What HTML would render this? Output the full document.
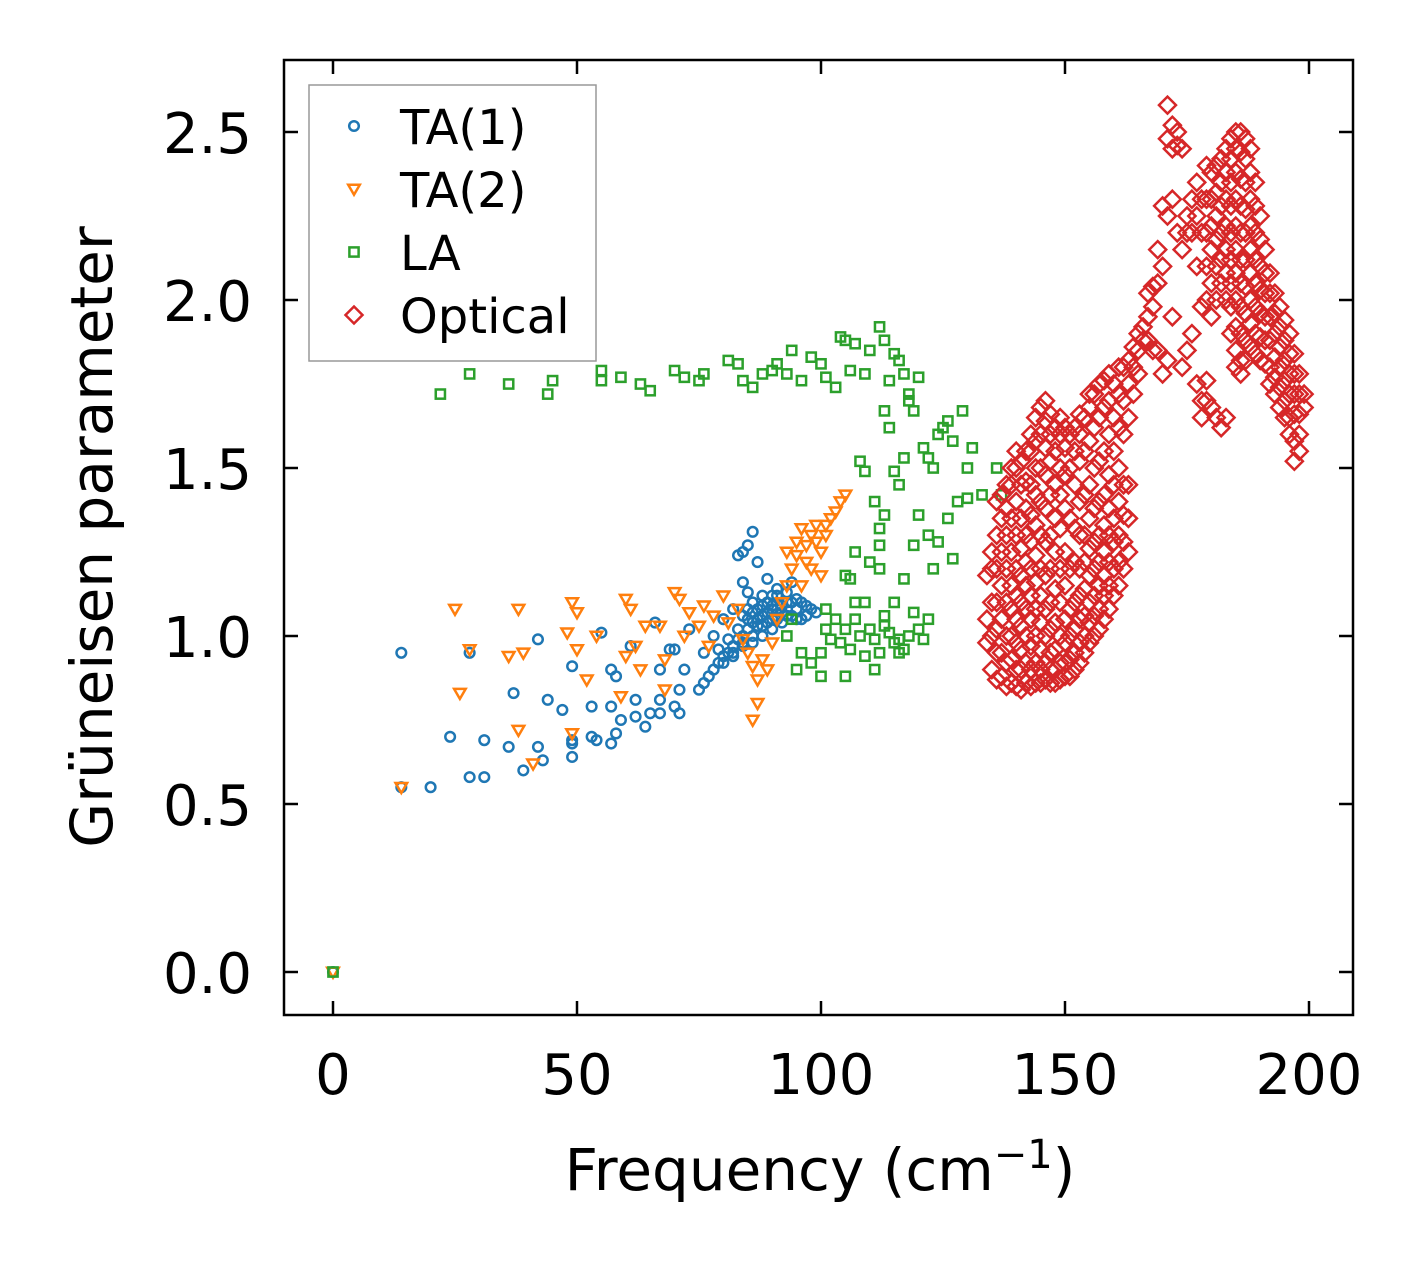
<!DOCTYPE html>
<html><head><meta charset="utf-8"><style>
html,body{margin:0;padding:0;background:#fff;}
svg{display:block;font-family:"DejaVu Sans","Liberation Sans",sans-serif;}
</style></head><body>
<svg id="chart" width="1424" height="1264" viewBox="0 0 1424 1264">
<g id="marks"></g>
<rect x="284" y="60" width="1069" height="955" fill="none" stroke="#000" stroke-width="2.5"/>
<g id="axes"></g>
<text x="112" y="537" font-size="58" text-anchor="middle" transform="rotate(-90 112 537)">Grüneisen parameter</text>
<text x="820" y="1190" font-size="58" text-anchor="middle">Frequency (cm<tspan dy="-22" font-size="40">−1</tspan><tspan dy="22">)</tspan></text>
<g>
<rect x="309" y="85" width="287" height="276" fill="#fff" stroke="#999" stroke-width="1.5"/>
<g id="legend-items"></g>
</g>
</svg>
<script>
const ta1X=[0,14,14,20,24,28,28,31,31,37,36,39,42,42,43,44,47,49,49,49,49,53,53,54,55,57,57,58,58,57,59,62,61,62,64,65,66,67,67,67,69,70,70,71,71,72,73,75,76,77,78,79,80,81,82,83,84,85,86,87,88,89,90,91,92,93,94,95,96,97,98,84,85,86,87,83,84,85,89,91,94,80,78,76,82,86,88,90,92,95,97,99,84,86,88,90,84,82,85,87,89,91,93,86,88,90,79,81,83,85,87,89,91,93,95,80,82,84,86,88,90,92,94,96];
const ta1Y=[0,0.95,0.55,0.55,0.70,0.95,0.58,0.58,0.69,0.83,0.67,0.60,0.67,0.99,0.63,0.81,0.78,0.69,0.64,0.91,0.68,0.79,0.70,0.69,1.01,0.90,0.79,0.88,0.71,0.68,0.75,0.81,0.97,0.76,0.73,0.77,1.04,0.90,0.81,0.77,0.96,0.96,0.79,0.84,0.77,0.90,1.02,0.84,0.86,0.88,0.90,0.92,0.94,0.95,0.97,0.99,1.00,1.02,1.04,1.05,1.06,1.07,1.08,1.08,1.09,1.10,1.10,1.11,1.10,1.09,1.08,1.25,1.27,1.31,1.22,1.24,1.16,1.13,1.17,1.14,1.16,1.05,1.00,0.95,1.08,0.98,1.00,1.02,1.04,1.05,1.06,1.07,1.06,1.10,1.12,1.12,0.97,0.94,1.08,1.03,1.04,1.05,1.06,1.07,1.09,1.09,0.96,0.99,1.02,1.05,1.08,1.1,1.12,1.13,1.08,0.92,0.95,0.98,1.0,1.03,1.05,1.07,1.06,1.05];
const ta2X=[0,14,25,26,28,38,36,38,39,41,48,49,49,50,50,52,54,60,59,60,61,62,63,64,67,68,68,70,71,72,73,75,76,77,78,80,81,83,84,85,86,86,87,87,88,89,90,91,92,93,93,94,95,96,97,98,99,100,101,102,103,104,105,98,96,100,95,97,99,101];
const ta2Y=[0,0.55,1.08,0.83,0.96,1.08,0.94,0.72,0.95,0.62,1.01,1.10,0.71,1.07,0.96,0.87,1.00,1.11,0.82,0.94,1.08,0.97,0.90,1.03,1.03,0.93,0.84,1.13,1.11,1.00,1.07,1.03,1.09,0.97,1.06,1.12,1.04,1.08,0.99,0.95,0.91,0.75,0.80,0.87,0.93,0.90,0.98,1.05,1.10,1.15,1.25,1.20,1.28,1.32,1.22,1.30,1.28,1.25,1.30,1.35,1.37,1.40,1.42,1.20,1.15,1.18,1.24,1.27,1.33,1.33];
const laX=[0,22,28,36,44,45,55,55,59,63,65,70,72,75,76,81,83,84,86,88,90,91,93,94,96,98,100,101,103,104,105,106,107,109,110,112,113,114,115,116,117,118,120,119,113,114,108,109,111,112,113,115,116,117,118,121,122,123,124,125,126,127,129,130,131,133,136,137,120,122,124,126,128,130,127,123,119,117,112,112,105,106,107,110,109,107,105,103,101,100,98,96,95,94,93,101,104,105,106,108,109,110,111,112,113,114,115,116,117,118,119,120,121,122,115,113,111,116,100,102,107];
const laY=[0,1.72,1.78,1.75,1.72,1.76,1.79,1.76,1.77,1.75,1.73,1.79,1.77,1.76,1.78,1.82,1.81,1.76,1.74,1.78,1.79,1.81,1.78,1.85,1.76,1.83,1.81,1.77,1.74,1.89,1.88,1.79,1.87,1.78,1.85,1.92,1.88,1.76,1.84,1.82,1.78,1.72,1.77,1.67,1.67,1.62,1.52,1.49,1.40,1.32,1.36,1.49,1.45,1.53,1.70,1.56,1.53,1.50,1.60,1.62,1.64,1.58,1.67,1.50,1.56,1.42,1.50,1.42,1.36,1.30,1.28,1.35,1.40,1.41,1.23,1.20,1.27,1.17,1.20,1.27,1.18,1.17,1.25,1.22,1.10,1.05,1.02,1.05,1.02,0.88,0.92,0.95,0.90,1.05,1.00,1.08,0.98,0.88,0.96,1.00,0.94,1.02,0.99,0.95,1.03,1.01,0.98,0.99,0.96,1.00,1.07,1.02,0.99,1.05,1.10,1.06,0.90,0.95,0.95,0.99,1.10];
// Optical: each column = [frequency, [gamma values]]
const optColumns=[
[134,[0.98,1.05,1.18]],
[135,[0.9,1.0,1.1,1.2,1.25]],
[136,[0.87,0.95,1.02,1.1,1.2,1.3,1.4]],
[137,[0.88,0.95,1.05,1.15,1.25,1.35,1.42]],
[138,[0.85,0.92,1.0,1.1,1.2,1.3,1.38,1.45]],
[139,[0.86,0.93,1.0,1.08,1.15,1.25,1.35,1.45,1.5]],
[140,[0.85,0.9,0.98,1.05,1.12,1.2,1.3,1.4,1.5,1.55]],
[141,[0.84,0.9,0.96,1.03,1.1,1.18,1.26,1.35,1.45,1.52]],
[142,[0.86,0.92,1.0,1.08,1.15,1.22,1.3,1.38,1.46,1.55]],
[143,[0.85,0.9,0.97,1.05,1.12,1.2,1.28,1.36,1.45,1.55,1.6]],
[144,[0.86,0.92,1.0,1.08,1.16,1.24,1.33,1.42,1.5,1.58,1.65]],
[145,[0.86,0.9,0.96,1.04,1.12,1.2,1.3,1.4,1.5,1.6,1.68]],
[146,[0.87,0.92,1.0,1.08,1.18,1.28,1.38,1.48,1.56,1.64,1.7]],
[147,[0.86,0.9,0.95,1.02,1.1,1.2,1.3,1.42,1.52,1.6,1.66]],
[148,[0.86,0.9,0.96,1.04,1.14,1.25,1.35,1.45,1.55,1.62]],
[149,[0.87,0.92,1.0,1.1,1.2,1.32,1.42,1.5,1.6,1.65]],
[150,[0.88,0.92,0.98,1.05,1.15,1.25,1.38,1.48,1.56,1.62]],
[151,[0.88,0.93,1.0,1.08,1.2,1.35,1.5,1.6]],
[152,[0.9,0.95,1.02,1.1,1.22,1.32,1.45,1.55,1.62]],
[153,[0.92,0.98,1.05,1.12,1.2,1.3,1.4,1.52,1.6,1.66]],
[154,[0.95,1.0,1.06,1.14,1.22,1.3,1.42,1.55,1.65]],
[155,[0.98,1.04,1.1,1.18,1.26,1.35,1.45,1.58,1.68,1.72]],
[156,[1.0,1.06,1.12,1.2,1.28,1.38,1.5,1.62,1.72]],
[157,[1.02,1.08,1.15,1.22,1.3,1.4,1.52,1.65,1.75]],
[158,[1.05,1.12,1.18,1.25,1.33,1.42,1.55,1.68,1.76]],
[159,[1.08,1.15,1.22,1.3,1.38,1.48,1.6,1.7,1.78]],
[160,[1.12,1.2,1.28,1.35,1.45,1.55,1.65,1.75]],
[161,[1.15,1.22,1.3,1.4,1.5,1.62,1.72,1.8]],
[162,[1.2,1.28,1.36,1.45,1.6,1.7,1.8]],
[163,[1.25,1.35,1.45,1.65,1.75,1.82]],
[164,[1.72,1.8,1.86]],
[165,[1.78,1.85,1.9]],
[166,[1.88,1.92]],
[167,[1.95,2.02,1.88]],
[168,[1.98,2.04,1.85]],
[169,[2.05,1.85,2.15]],
[170,[1.78,2.1,2.28]],
[171,[1.82,2.25,2.58,2.48]],
[172,[2.3,2.45,1.95,2.52]],
[173,[2.5,2.2,2.46]],
[174,[2.15,1.8,2.45]],
[175,[2.25,1.85,2.2]],
[176,[2.3,2.2,1.9]],
[177,[2.35,2.25,2.1,1.75]],
[178,[2.2,2.3,1.98,1.65,1.7]],
[179,[2.4,2.3,2.2,2.1,2.0,1.7,1.76]],
[180,[2.38,2.3,2.22,2.15,2.05,1.95,1.68]],
[181,[2.4,2.32,2.25,2.18,2.1,2.0,1.65]],
[182,[2.42,2.35,2.28,2.2,2.12,2.05,1.62]],
[183,[2.45,2.38,2.3,2.22,2.15,2.08,2.0,1.65]],
[184,[2.48,2.42,2.35,2.28,2.2,2.12,2.05,1.98,1.9]],
[185,[2.5,2.45,2.38,2.3,2.22,2.15,2.08,2.0,1.92,1.85,1.8]],
[186,[2.5,2.44,2.36,2.28,2.2,2.12,2.05,1.98,1.9,1.82,1.78]],
[187,[2.48,2.42,2.35,2.27,2.2,2.12,2.04,1.96,1.88,1.82]],
[188,[2.45,2.38,2.3,2.22,2.15,2.08,2.0,1.93,1.86]],
[189,[2.35,2.28,2.2,2.12,2.05,1.98,1.9,1.84]],
[190,[2.25,2.18,2.1,2.03,1.96,1.89,1.82]],
[191,[2.15,2.08,2.02,1.95,1.88,1.81]],
[192,[2.08,2.02,1.95,1.88,1.8,1.75]],
[193,[2.02,1.96,1.9,1.83,1.77,1.72]],
[194,[1.98,1.92,1.86,1.8,1.74,1.68]],
[195,[1.94,1.88,1.82,1.76,1.7,1.65]],
[196,[1.9,1.84,1.78,1.72,1.65,1.6]],
[197,[1.84,1.78,1.72,1.66,1.58,1.52]],
[198,[1.78,1.72,1.66,1.6,1.55]],
[199,[1.72,1.68]]
];
const xTicks=[0,50,100,150,200];
const yTicks=[0.0,0.5,1.0,1.5,2.0,2.5];
const xTickLabels=["0","50","100","150","200"];
const yTickLabels=["0.0","0.5","1.0","1.5","2.0","2.5"];
const seriesNames=["TA(1)","TA(2)","LA","Optical"];

const optX=[],optY=[];
optColumns.forEach(c=>c[1].forEach(y=>{optX.push(c[0]);optY.push(y);}));

const NS="http://www.w3.org/2000/svg";
const X0=284,X1=1353,Y0=60,Y1=1015;
function sx(v){return 333+v*4.88;}
function sy(v){return 972-v*336;}
const colors=["#1f77b4","#ff7f0e","#2ca02c","#d62728"];
function marker(kind,x,y,c){
  let el;
  if(kind===0){el=document.createElementNS(NS,"circle");el.setAttribute("cx",x);el.setAttribute("cy",y);el.setAttribute("r",4.8);}
  else if(kind===1){el=document.createElementNS(NS,"polygon");el.setAttribute("points",`${x-5.8},${y-4.2} ${x+5.8},${y-4.2} ${x},${y+5.8}`);}
  else if(kind===2){el=document.createElementNS(NS,"rect");el.setAttribute("x",x-4.6);el.setAttribute("y",y-4.6);el.setAttribute("width",9.2);el.setAttribute("height",9.2);}
  else {el=document.createElementNS(NS,"polygon");el.setAttribute("points",`${x},${y-8.5} ${x+8.5},${y} ${x},${y+8.5} ${x-8.5},${y}`);}
  el.setAttribute("fill","none");el.setAttribute("stroke",c);el.setAttribute("stroke-width",2.5);
  return el;
}
const marks=document.getElementById("marks");
const all=[[ta1X,ta1Y],[ta2X,ta2Y],[laX,laY],[optX,optY]];
const names=["ta1-point","ta2-point","la-point","optical-point"];
all.forEach((s,k)=>{
  const g=document.createElementNS(NS,"g");
  
  
  for(let i=0;i<s[0].length;i++){
    const m=marker(k,sx(s[0][i]),sy(s[1][i]),colors[k]);
    
    
    g.appendChild(m);
  }
  marks.appendChild(g);
});
const axes=document.getElementById("axes");
function line(x1,y1,x2,y2){const l=document.createElementNS(NS,"line");l.setAttribute("x1",x1);l.setAttribute("y1",y1);l.setAttribute("x2",x2);l.setAttribute("y2",y2);l.setAttribute("stroke","#000");l.setAttribute("stroke-width",2.5);return l;}
function text(x,y,t,anchor,fs){const e=document.createElementNS(NS,"text");e.setAttribute("x",x);e.setAttribute("y",y);e.setAttribute("font-size",fs);e.setAttribute("text-anchor",anchor);e.textContent=t;return e;}
xTicks.forEach((v,i)=>{
  const x=sx(v);
  const a=line(x,Y1,x,Y1-14);axes.appendChild(a);
  const b=line(x,Y0,x,Y0+14);axes.appendChild(b);
  const t=text(x,1094,xTickLabels[i],"middle",56);
  
  
  axes.appendChild(t);
});
yTicks.forEach((v,i)=>{
  const y=sy(v);
  const a=line(X0,y,X0+14,y);axes.appendChild(a);
  const b=line(X1,y,X1-14,y);axes.appendChild(b);
  const t=text(252,y+21,yTickLabels[i],"end",56);
  
  
  axes.appendChild(t);
});
const li=document.getElementById("legend-items");
const ly=[126,189,252,315];
seriesNames.forEach((n,k)=>{
  const m=marker(k,354,ly[k],colors[k]);
  
  
  li.appendChild(m);
  const t=text(400,ly[k]+18,n,"start",48);
  
  
  li.appendChild(t);
});
</script>
</body></html>
